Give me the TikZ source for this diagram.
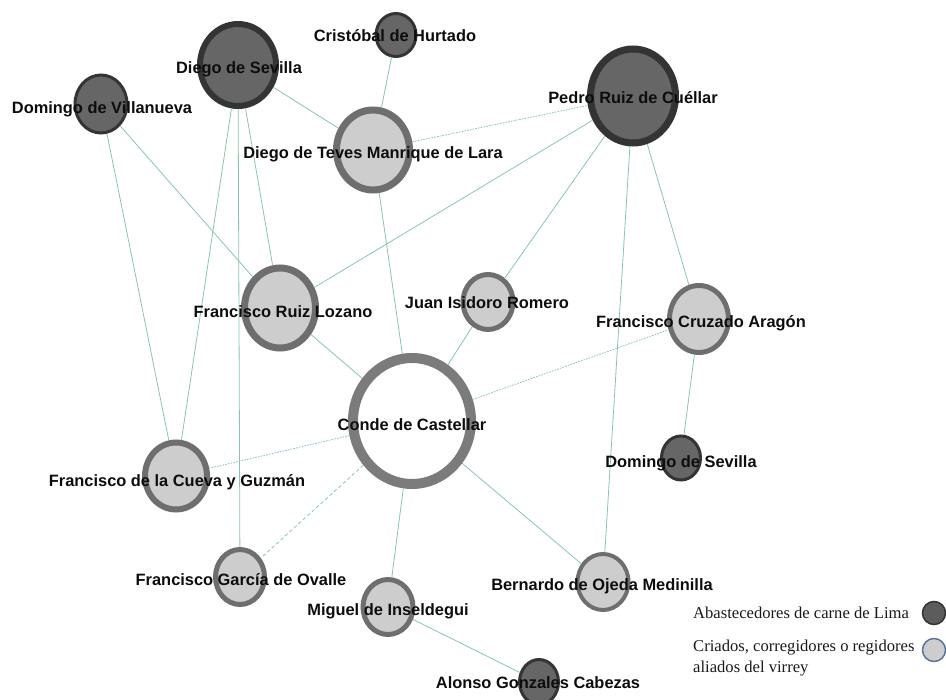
\documentclass[tikz,border=0pt]{standalone}
\usepackage{fontspec}
\setmainfont{Liberation Serif}
\setsansfont{Liberation Sans}
\usetikzlibrary{shapes.geometric}

\definecolor{cdark}{HTML}{666666}
\definecolor{cdarkline}{HTML}{343434}
\definecolor{clight}{HTML}{CDCDCD}
\definecolor{clightline}{HTML}{6E6E6E}
\definecolor{cconde}{HTML}{7B7B7B}
\definecolor{cedge}{HTML}{86C8A6}
\definecolor{clegline}{HTML}{5A76A0}

\begin{document}
\begin{tikzpicture}[x=1pt,y=-1pt,inner sep=0pt,
    abast/.style={ellipse,draw=cdarkline,fill=cdark},
    aliado/.style={ellipse,draw=clightline,fill=clight},
    sz/.style n args={3}{minimum width=#1pt,minimum height=#2pt,line width=#3pt},
    rel/.style={draw=cedge,line width=0.8pt},
    dots/.style={dash pattern=on 1.6pt off 1.2pt},
    lbl/.style={font=\sffamily\bfseries\fontsize{16.4}{19}\selectfont,text=black!95,
        text height=11.7pt,text depth=0pt},
    leg/.style={font=\fontsize{16.6}{21}\selectfont,align=left,anchor=west,text=black!90}]
\useasboundingbox (0,0) rectangle (946,700);

% personas
\node[abast,sz={76}{82}{6}]  (dsevilla)   at (238,65)  {};
\node[abast,sz={40}{43}{3}]  (hurtado)    at (396,35)  {};
\node[abast,sz={52}{58}{3}]  (villanueva) at (101,104) {};
\node[aliado,sz={73}{80}{7}] (teves)      at (373,150) {};
\node[abast,sz={85}{94}{7}]  (pedro)      at (633,96)  {};
\node[aliado,sz={71}{80}{7}] (lozano)     at (280,308) {};
\node[aliado,sz={50}{55}{5}] (romero)     at (488,302) {};
\node[aliado,sz={59}{67}{5}] (cruzado)    at (699,319) {};
\node[ellipse,draw=cconde,fill=white,sz={118}{126}{10}] (conde) at (412,421) {};
\node[aliado,sz={62}{67}{6}] (cueva)      at (176,476) {};
\node[aliado,sz={49}{55}{5}] (ovalle)     at (240,577) {};
\node[aliado,sz={50}{55}{5}] (inseldegui) at (388,607) {};
\node[aliado,sz={51}{56}{4}] (ojeda)      at (603,582) {};
\node[abast,sz={39}{45}{3}]  (alonso)     at (539,682) {};
\node[abast,sz={39}{44}{3}]  (dosevilla)  at (681,458) {};

\path[rel]
    (dsevilla) edge (teves)
                edge (lozano)
                edge (cueva)
                edge (ovalle)
    (villanueva) edge (lozano)
                 edge (cueva)
    (hurtado) edge (teves)
    (teves) edge[dots] (pedro)
            edge (conde)
    (pedro) edge (lozano)
            edge (romero)
            edge (ojeda)
            edge (cruzado)
    (conde) edge (lozano)
            edge (romero)
            edge[dots] (cruzado)
            edge[dots] (cueva)
            edge[dash pattern=on 3.5pt off 2.5pt] (ovalle)
            edge (inseldegui)
            edge (ojeda)
    (cruzado) edge (dosevilla)
    (inseldegui) edge (alonso);

\node[lbl] (l-dsevilla)   at (239,68)  {Diego de Sevilla};
\node[lbl] (l-hurtado)    at (395,36)  {Cristóbal de Hurtado};
\node[lbl] (l-villanueva) at (102,108) {Domingo de Villanueva};
\node[lbl] (l-teves)      at (373,153) {Diego de Teves Manrique de Lara};
\node[lbl] (l-pedro)      at (633,98)  {Pedro Ruiz de Cuéllar};
\node[lbl] (l-lozano)     at (283,312) {Francisco Ruiz Lozano};
\node[lbl] (l-romero)     at (487,303) {Juan Isidoro Romero};
\node[lbl] (l-cruzado)    at (701,322) {Francisco Cruzado Aragón};
\node[lbl] (l-conde)      at (412,425) {Conde de Castellar};
\node[lbl] (l-cueva)      at (177,481) {Francisco de la Cueva y Guzmán};
\node[lbl] (l-ovalle)     at (241,580) {Francisco García de Ovalle};
\node[lbl] (l-inseldegui) at (388,610) {Miguel de Inseldegui};
\node[lbl] (l-ojeda)      at (602,585) {Bernardo de Ojeda Medinilla};
\node[lbl] (l-alonso)     at (538,683) {Alonso Gonzales Cabezas};
\node[lbl] (l-dosevilla)  at (681,462) {Domingo de Sevilla};

% leyenda
\node[leg] (leg-abast) at (693,613) {Abastecedores de carne de Lima};
\node[leg] (leg-aliado) at (693,658) {Criados, corregidores o regidores\\aliados del virrey};
\node[circle,draw=cdarkline,fill=cdark!90!black,line width=1.5pt,minimum size=23pt] (key-abast) at (934,613) {};
\node[circle,draw=clegline,fill=clight,line width=1.5pt,minimum size=23pt] (key-aliado) at (934,650) {};
\end{tikzpicture}
\end{document}
